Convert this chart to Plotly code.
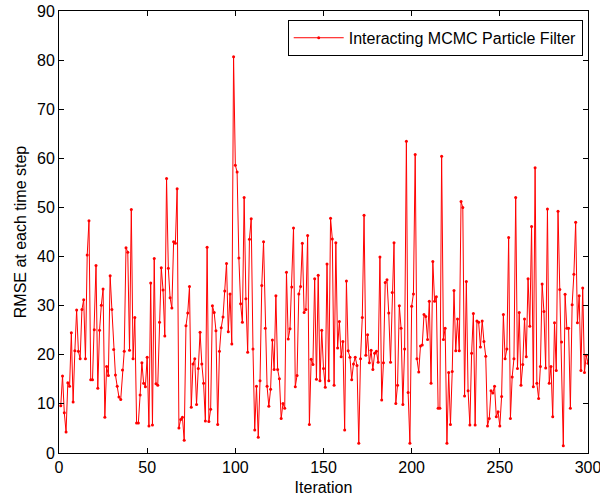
import plotly.graph_objects as go

iterations = list(range(1, 301))
rmse = [
    9.6, 15.7, 8.2, 4.3, 14.3, 13.6, 24.5, 10.4, 20.8, 29.1,
    20.7, 19.2, 29.2, 31.2, 19.2, 40.3, 47.3, 14.9, 14.9, 25.1,
    38.2, 13.2, 25.0, 30.1, 33.4, 7.3, 17.6, 15.8, 36.1, 29.2,
    21.1, 15.9, 13.6, 11.4, 10.9, 16.9, 20.7, 41.8, 40.9, 20.9,
    49.6, 19.2, 27.6, 6.1, 6.1, 11.8, 18.4, 14.2, 13.5, 19.5,
    5.5, 34.6, 5.7, 39.6, 14.1, 13.8, 26.6, 37.7, 33.2, 23.8,
    55.9, 37.6, 31.6, 29.5, 43.0, 42.7, 53.8, 5.1, 6.8, 7.3,
    2.6, 25.9, 28.5, 33.9, 9.3, 18.1, 19.2, 9.9, 17.2, 24.6,
    18.1, 14.2, 6.5, 41.9, 6.4, 8.9, 30.0, 28.6, 24.9, 5.8,
    20.7, 25.5, 27.7, 33.0, 38.6, 24.7, 32.4, 22.2, 80.7, 58.6,
    57.2, 39.7, 30.4, 26.6, 52.0, 31.4, 20.5, 43.5, 47.7, 21.2,
    4.7, 13.6, 3.2, 14.7, 34.1, 43.0, 25.4, 13.6, 9.5, 13.0,
    23.0, 17.0, 32.0, 17.0, 15.1, 7.0, 10.1, 9.1, 36.8, 23.2,
    25.3, 33.8, 45.8, 13.5, 15.8, 32.4, 33.9, 42.7, 28.6, 29.2,
    44.3, 5.8, 19.1, 18.0, 35.5, 15.0, 36.2, 14.7, 25.0, 17.2,
    13.4, 38.5, 14.7, 47.8, 43.6, 13.8, 42.8, 21.4, 26.8, 19.6,
    22.7, 4.7, 35.0, 20.8, 19.5, 14.9, 18.1, 19.5, 17.8, 2.0,
    19.2, 27.6, 48.4, 19.9, 24.1, 18.4, 20.9, 17.0, 20.3, 20.7,
    18.5, 39.9, 10.8, 18.4, 34.7, 35.3, 28.5, 18.5, 32.7, 42.8,
    10.1, 13.8, 30.0, 25.4, 9.9, 21.2, 63.5, 12.3, 2.0, 29.9,
    32.4, 60.8, 19.2, 16.5, 21.8, 22.0, 28.2, 27.8, 23.1, 30.9,
    14.2, 39.0, 30.9, 31.8, 9.1, 9.1, 60.4, 23.1, 25.4, 2.0,
    16.4, 5.8, 16.6, 33.1, 20.8, 27.3, 20.8, 51.2, 50.0, 11.6,
    34.9, 12.7, 5.7, 20.3, 28.4, 5.7, 26.9, 26.6, 21.6, 26.9,
    22.7, 19.7, 5.5, 7.0, 12.7, 12.2, 13.6, 7.4, 8.4, 5.5,
    11.5, 28.2, 19.2, 21.2, 43.9, 7.0, 15.5, 19.2, 52.0, 17.2,
    28.6, 13.8, 18.0, 27.3, 19.6, 35.5, 25.8, 46.1, 13.5, 58.1,
    14.2, 11.1, 17.6, 34.4, 28.8, 17.3, 49.7, 14.2, 17.6, 7.4,
    26.5, 16.8, 49.2, 33.3, 22.6, 1.5, 32.3, 25.4, 25.4, 9.1,
    30.2, 36.4, 47.0, 26.5, 32.0, 16.8, 33.6, 16.4, 19.9, 18.3,
]

series_name = "Interacting MCMC Particle Filter"
x_title = "Iteration"
y_title = "RMSE at each time step"

fig = go.Figure()
fig.add_trace(go.Scatter(
    x=iterations, y=rmse, mode="lines+markers", name=series_name,
    line=dict(color="#ff0000", width=1),
    marker=dict(color="#ff0000", size=3, symbol="circle"),
))

axis_common = dict(
    showline=True, linecolor="black", linewidth=1, mirror="ticks",
    ticks="inside", ticklen=5, tickcolor="black", showgrid=False,
    zeroline=False, tickfont=dict(size=16, color="black"), automargin=False,
    ticklabeloverflow="allow",
)

fig.update_layout(
    width=600, height=504,
    margin=dict(l=59, r=12, t=11, b=51),
    paper_bgcolor="white", plot_bgcolor="white",
    font=dict(family="Liberation Sans, Arial, sans-serif", size=16, color="black"),
    showlegend=True,
    legend=dict(
        x=0.99, y=0.98, xanchor="right", yanchor="top",
        bordercolor="black", borderwidth=1, bgcolor="white",
        font=dict(size=16, color="black"),
        tracegroupgap=0, itemwidth=50,
    ),
    xaxis=dict(range=[0, 300], dtick=50, tick0=0,
               title=dict(text=x_title, font=dict(size=16), standoff=6), **axis_common),
    yaxis=dict(range=[0, 90], dtick=10, tick0=0,
               title=dict(text=y_title, font=dict(size=16), standoff=6), **axis_common),
)

fig.write_html("out.html", config={"displayModeBar": False},
               post_script="document.body.style.margin='0';")
